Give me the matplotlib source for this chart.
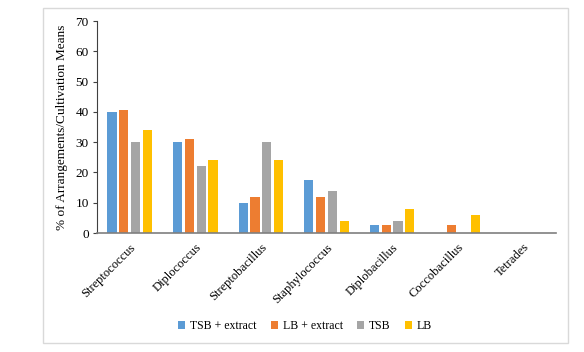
import numpy as np
import matplotlib.pyplot as plt
from matplotlib.patches import Rectangle

plt.rcParams['font.family'] = ['Liberation Serif', 'DejaVu Serif']

categories = ['Streptococcus', 'Diplococcus', 'Streptobacillus', 'Staphylococcus',
              'Diplobacillus', 'Coccobacillus', 'Tetrades']
tsb_extract = [40, 30, 10, 17.5, 2.5, 0, 0]
lb_extract = [40.5, 31, 12, 12, 2.5, 2.5, 0]
tsb = [30, 22, 30, 14, 4, 0, 0]
lb = [34, 24, 24, 4, 8, 6, 0]

series = [
    ('TSB + extract', tsb_extract, '#5B9BD5'),
    ('LB + extract', lb_extract, '#ED7D31'),
    ('TSB', tsb, '#A5A5A5'),
    ('LB', lb, '#FFC000'),
]

fig = plt.figure(figsize=(5.84, 3.52), dpi=100)
# light frame around the chart area
fig.patches.append(Rectangle((43 / 584, 1 - 343 / 352), 525 / 584, 335 / 352,
                             transform=fig.transFigure, fill=False,
                             edgecolor='#D9D9D9', linewidth=1))

ax = fig.add_axes([97 / 584, 1 - 233 / 352, 459 / 584, 212 / 352])
x = np.arange(len(categories))
for i, (name, vals, color) in enumerate(series):
    ax.bar(x + (i - 1.5) * 0.18, vals, width=0.14, color=color, label=name)

ax.set_xlim(-0.5, len(categories) - 0.5)
ax.set_ylim(0, 70)
ax.set_yticks(range(0, 71, 10))
ax.set_xticks(x)
ax.set_xticklabels(categories, rotation=45, ha='right', rotation_mode='anchor', fontsize=9)
ax.tick_params(axis='x', length=0, pad=6)
ax.tick_params(axis='y', labelsize=9.5, length=3, width=0.8, color='#404040', pad=3)
ax.set_ylabel('% of Arrangements/Cultivation Means', fontsize=9.5, labelpad=5)

for s in ['top', 'right']:
    ax.spines[s].set_visible(False)
ax.spines['left'].set_color('#404040')
ax.spines['bottom'].set_color('#7F7F7F')
ax.spines['bottom'].set_linewidth(1.2)

fig.legend(loc='center', bbox_to_anchor=(305 / 584, 1 - 326 / 352), ncol=4,
           frameon=False, fontsize=8.5, handlelength=0.6, handleheight=0.6,
           columnspacing=1.2, handletextpad=0.4)

fig.savefig('out.png', dpi=100)
